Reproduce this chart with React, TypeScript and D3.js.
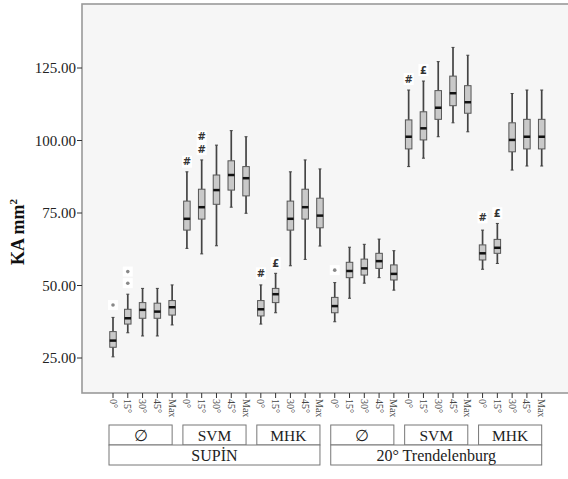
import React from "react";
import * as d3 from "d3";

// categories
const angles = ["0°", "15°", "30°", "45°", "Max"];
const devices = ["∅", "SVM", "MHK", "∅", "SVM", "MHK"];
const positions = ["SUPİN", "20° Trendelenburg"];

// box values, one per category (6 groups x 5 angles)
const lows = [25.4, 33.7, 32.6, 32.6, 36.4, 62.8, 60.9, 63.7, 77.0, 74.9, 36.7, 40.6, 56.8, 59.0, 63.6,
  37.5, 45.6, 50.8, 52.7, 48.4, 91.0, 93.9, 101.3, 106.1, 103.0, 55.6, 57.6, 89.8, 91.2, 91.2];
const q1s = [28.7, 36.7, 38.7, 38.7, 39.8, 69.1, 72.9, 78.0, 82.9, 80.9, 39.5, 44.1, 69.1, 72.9, 69.9,
  40.6, 52.7, 53.6, 55.9, 51.9, 97.1, 100.2, 107.3, 112.0, 109.4, 58.8, 61.1, 96.1, 97.1, 97.1];
const medians = [31.0, 38.7, 41.6, 41.0, 42.5, 73.0, 77.0, 82.9, 88.1, 87.0, 41.8, 47.0, 73.0, 77.0, 74.1,
  42.9, 55.0, 55.9, 58.4, 54.0, 101.3, 104.2, 111.3, 116.3, 113.2, 61.1, 63.0, 100.2, 101.3, 101.3];
const q3s = [34.1, 41.8, 44.1, 43.9, 44.8, 79.1, 83.2, 88.1, 93.0, 91.0, 44.8, 49.0, 79.1, 83.2, 80.1,
  45.9, 58.0, 59.1, 61.1, 57.1, 107.1, 109.9, 117.2, 122.2, 118.9, 64.0, 65.9, 106.1, 107.3, 107.3];
const highs = [39.0, 47.0, 49.0, 49.0, 50.2, 89.2, 93.3, 98.4, 103.4, 101.3, 50.2, 54.2, 89.2, 93.3, 90.2,
  51.0, 63.2, 64.2, 66.0, 62.0, 117.4, 120.5, 127.2, 132.1, 129.4, 69.1, 71.4, 116.2, 117.4, 117.4];

// outliers (grey dots) and significance marks
const outlierCats = [0, 1, 1, 15];
const outlierVals = [43.3, 54.8, 50.8, 55.3];
const markCats = [5, 6, 6, 10, 11, 20, 21, 25, 26];
const markVals = [92.7, 101.3, 97.0, 54.2, 57.7, 121.2, 124.3, 73.5, 74.9];
const markSyms = ["#", "#", "#", "#", "£", "#", "£", "#", "£"];

const yTicks = [25, 50, 75, 100, 125];

const W = 568;
const H = 479;
const plotL = 82;
const plotT = 4;
const plotB = 393;
const serif = "Liberation Serif, Times New Roman, Times, serif";

export default function App() {
  const cats = d3.range(lows.length);
  const x = d3.scalePoint<number>().domain(cats).range([113, 541.7]);
  const y = d3.scaleLinear().domain([25, 125]).range([358, 68]);
  const bw = 6.5;

  return (
    <svg width={W} height={H} style={{ position: "absolute", left: 0, top: 0, background: "#fff", fontFamily: serif }}>
      <rect x={plotL} y={plotT} width={W - plotL + 10} height={plotB - plotT} fill="#f6f6f6"
        stroke="#9a9a9a" strokeWidth={1.6} />

      {/* y axis */}
      {yTicks.map(t => (
        <g key={t} transform={`translate(${plotL},${y(t)})`}>
          <line x1={-5} x2={0} stroke="#333" />
          <text x={-6} dy="0.35em" textAnchor="end" style={{ fontSize: 15, fontFamily: serif }} fill="#222">{t.toFixed(2)}</text>
        </g>
      ))}
      <text transform={`translate(24,${232}) rotate(-90)`} textAnchor="middle"
        style={{ fontSize: 18, fontWeight: "bold", fontFamily: serif }} fill="#111">
        KA mm<tspan style={{ fontSize: 11 }} dy={-7}>2</tspan>
      </text>

      {/* boxes */}
      {cats.map(i => {
        const cx = x(i)!;
        return (
          <g key={i}>
            <line x1={cx} x2={cx} y1={y(highs[i])} y2={y(q3s[i])} stroke="#444" strokeWidth={1.7} />
            <line x1={cx} x2={cx} y1={y(q1s[i])} y2={y(lows[i])} stroke="#444" strokeWidth={1.7} />
            <line x1={cx - 1.5} x2={cx + 1.5} y1={y(highs[i])} y2={y(highs[i])} stroke="#444" />
            <line x1={cx - 1.5} x2={cx + 1.5} y1={y(lows[i])} y2={y(lows[i])} stroke="#444" />
            <rect x={cx - bw / 2} y={y(q3s[i])} width={bw} height={y(q1s[i]) - y(q3s[i])}
              fill="#c9c9c9" stroke="#555" strokeWidth={1} />
            <line x1={cx - bw / 2} x2={cx + bw / 2} y1={y(medians[i])} y2={y(medians[i])}
              stroke="#111" strokeWidth={2.5} />
          </g>
        );
      })}

      {/* outliers */}
      {outlierCats.map((c, k) => (
        <g key={"o" + k} transform={`translate(${x(c)},${y(outlierVals[k])})`}>
          <rect x={-5} y={-5} width={10} height={10} fill="#fff" />
          <circle r={1.8} fill="#888" />
        </g>
      ))}
      {markCats.map((c, k) => (
        <g key={"m" + k} transform={`translate(${x(c)},${y(markVals[k])})`}>
          <rect x={-5} y={-6} width={10} height={12} fill="#fff" />
          <text dy="0.35em" textAnchor="middle" fill="#333"
            style={{ fontSize: 10, fontWeight: "bold", fontFamily: "DejaVu Sans, sans-serif" }}>{markSyms[k]}</text>
        </g>
      ))}

      {/* x axis ticks */}
      {cats.map(i => (
        <g key={"t" + i} transform={`translate(${x(i)},${plotB})`}>
          <line y1={0} y2={5} stroke="#333" />
          <text transform="translate(0,6) rotate(90)" dy="0.35em" fill="#444"
            style={{ fontSize: 10, fontFamily: serif }}>
            {angles[i % angles.length]}
          </text>
        </g>
      ))}

      {/* group boxes */}
      {devices.map((d, g) => {
        const x0 = x(g * 5)! - 4;
        const x1 = x(g * 5 + 4)!;
        return (
          <g key={"d" + g}>
            <rect x={x0} y={425} width={x1 - x0} height={20} fill="#fff" stroke="#777" />
            <text x={(x0 + x1) / 2} y={440.5} textAnchor="middle" fill="#222"
              style={{ fontSize: 15.5, fontFamily: serif }}>{d}</text>
          </g>
        );
      })}
      {positions.map((p, k) => {
        const x0 = x(k * 15)! - 4;
        const x1 = x(k * 15 + 14)!;
        return (
          <g key={"p" + k}>
            <rect x={x0} y={445} width={x1 - x0} height={20} fill="#fff" stroke="#777" />
            <text x={(x0 + x1) / 2} y={460.5} textAnchor="middle" fill="#222"
              style={{ fontSize: 16, fontFamily: serif }}>{p}</text>
          </g>
        );
      })}
    </svg>
  );
}
